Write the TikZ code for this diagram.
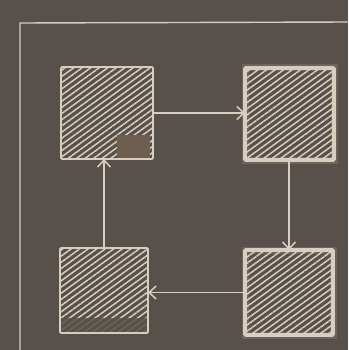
\documentclass[tikz,border=0pt]{standalone}
\usetikzlibrary{arrows.meta,patterns.meta,calc}
\definecolor{bg}{HTML}{58514B}
\definecolor{chalk}{HTML}{D8CEBF}
\definecolor{patch}{HTML}{6E5E50}
\tikzset{
  hatchbox/.style={draw=chalk, line width=1.6pt, rounded corners=1pt,
    pattern={Lines[angle=36,distance=5pt,line width=1.5pt]}, pattern color=chalk,
    inner sep=0pt, outer sep=0pt},
  boldbox/.style={hatchbox, line width=3.6pt},
  glow/.style={draw=chalk, line width=7pt, opacity=0.15},
  link/.style={draw=chalk, line width=1.3pt, -{Straight Barb[length=7pt,width=13pt,line width=1.5pt]}},
  frame/.style={draw=chalk, line width=1.4pt}
}
\begin{document}
\begin{tikzpicture}[x=1pt,y=-1pt]
\useasboundingbox[fill=bg] (0,0) rectangle (348,350);
% outer frame
\coordinate (fa) at (20,352);
\coordinate (fb) at (20,23);
\coordinate (fc) at (350,22);
\draw[frame] (fa) -- (fb) -- (fc);
% glows
\draw[glow] (245,68) rectangle (334,160);
\draw[glow] (245,250) rectangle (333,335);
% boxes
\node[hatchbox, minimum width=92pt, minimum height=92pt] (tl) at (107,113) {};
\node[boldbox, minimum width=89pt, minimum height=92pt] (tr) at (289.5,114) {};
\node[hatchbox, minimum width=88pt, minimum height=85pt] (bl) at (104,290.5) {};
\node[boldbox, minimum width=88pt, minimum height=85pt] (br) at (289,292.5) {};
% patch in top-left box and faded bottom of bottom-left box
\fill[patch] (117,135) rectangle (150,158);
\fill[bg, opacity=0.85] (61,318) rectangle (147,332);
% connectors
\draw[link] (tl.east) -- (tl.east -| tr.west);
\draw[link] (tr.south) -- (tr.south -| br.north) -- (br.north);
\draw[link] (br.west) -- (br.west -| bl.east);
\draw[link] (bl.north) -- (bl.north |- tl.south);
\end{tikzpicture}
\end{document}
